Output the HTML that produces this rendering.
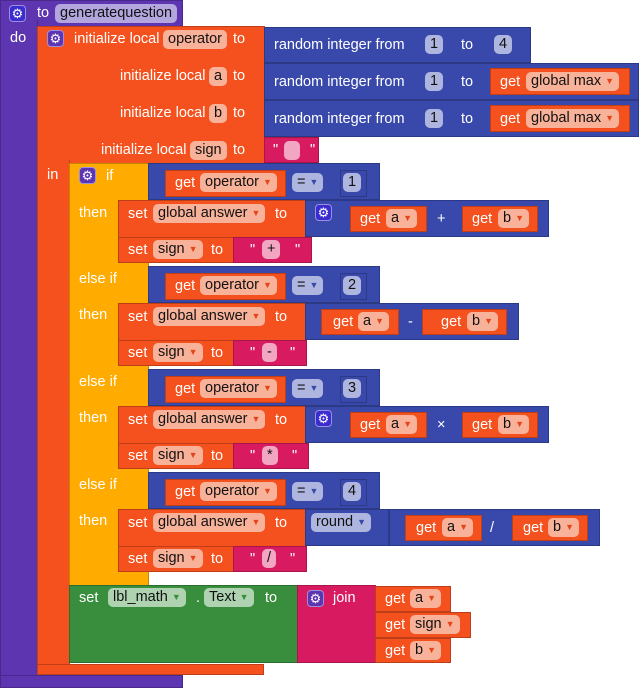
<!DOCTYPE html><html><head><style>
body{margin:0;background:#fff;width:640px;height:689px;position:relative;overflow:hidden;font-family:"Liberation Sans",sans-serif}
.b{position:absolute;box-sizing:border-box;border:1px solid rgba(0,0,0,.22)}
.t{position:absolute;color:#fff;font-size:14.5px;line-height:18px;white-space:nowrap}
.f{position:absolute;border-radius:5px;color:#111;font-size:14.5px;line-height:19px;height:19px;padding:0 5px;white-space:nowrap}
.o{background:#f4511e}.P{background:#5e35b1}.B{background:#3949ab}.Y{background:#ffab00}.G{background:#388e3c}.K{background:#d81b60}
.fo{background:#f9b29a}.fb{background:#aeb6e0}.fg{background:#afd3b1}.fk{background:#f2a6c2}
.ar{font-size:9px;margin-left:4px;vertical-align:1px}
.fo .ar{color:#e4461a}.fb .ar{color:#3949ab}.fg .ar{color:#388e3c}
.g{position:absolute;width:17px;height:17px;border-radius:4px;background:#3b2cd0;border:1px solid #9c8fe0;box-sizing:border-box;color:#fff;font-size:13px;line-height:15px;text-align:center}
.gp{background:#5e35b1}
</style></head><body>
<div class="b P" style="left:0;top:0;width:183px;height:27px"></div>
<div class="b P" style="left:0;top:20px;width:38px;height:660px;border-top:0"></div>
<div class="b P" style="left:0;top:675px;width:183px;height:13px"></div>
<div class="g" style="left:9px;top:5px">⚙</div>
<div class="t" style="left:37px;top:4px">to</div>
<div class="f fb" style="left:55px;top:4px;background:#b3a6df">generatequestion</div>
<div class="t" style="left:10px;top:29px">do</div>
<div class="b o" style="left:37px;top:26px;width:228px;height:138px"></div>
<div class="b o" style="left:37px;top:160px;width:33px;height:510px;border-top:0"></div>
<div class="b o" style="left:37px;top:664px;width:227px;height:11px"></div>
<div class="g gp" style="left:47px;top:30px">⚙</div>
<div class="t" style="left:74px;top:30px">initialize local</div>
<div class="f fo" style="left:163px;top:30px">operator</div>
<div class="t" style="left:233px;top:30px">to</div>
<div class="t" style="left:120px;top:67px">initialize local</div>
<div class="f fo" style="left:209px;top:67px">a</div>
<div class="t" style="left:233px;top:67px">to</div>
<div class="t" style="left:120px;top:104px">initialize local</div>
<div class="f fo" style="left:209px;top:104px">b</div>
<div class="t" style="left:233px;top:104px">to</div>
<div class="t" style="left:101px;top:141px">initialize local</div>
<div class="f fo" style="left:190px;top:141px">sign</div>
<div class="t" style="left:233px;top:141px">to</div>
<div class="t" style="left:47px;top:166px">in</div>
<div class="b B" style="left:264px;top:27px;width:267px;height:36px"></div>
<div class="t" style="left:274px;top:36px">random integer from</div>
<div class="f fb" style="left:425px;top:35px">1</div><div class="t" style="left:461px;top:36px">to</div><div class="f fb" style="left:494px;top:35px">4</div>
<div class="b B" style="left:264px;top:63px;width:375px;height:37px"></div>
<div class="t" style="left:274px;top:73px">random integer from</div>
<div class="f fb" style="left:425px;top:72px">1</div><div class="t" style="left:461px;top:73px">to</div>
<div class="b o" style="left:490px;top:68px;width:140px;height:27px"></div>
<div class="t" style="left:500px;top:73px">get</div><div class="f fo" style="left:526px;top:72px">global max<span class="ar">▼</span></div>
<div class="b B" style="left:264px;top:100px;width:375px;height:37px"></div>
<div class="t" style="left:274px;top:110px">random integer from</div>
<div class="f fb" style="left:425px;top:109px">1</div><div class="t" style="left:461px;top:110px">to</div>
<div class="b o" style="left:490px;top:105px;width:140px;height:27px"></div>
<div class="t" style="left:500px;top:110px">get</div><div class="f fo" style="left:526px;top:109px">global max<span class="ar">▼</span></div>
<div class="b K" style="left:264px;top:137px;width:55px;height:26px"></div>
<div class="t" style="left:273px;top:141px">"</div><div class="f fk" style="left:284px;top:141px;width:6px"></div><div class="t" style="left:310px;top:141px">"</div>
<div class="b Y" style="left:69px;top:163px;width:80px;height:423px"></div>
<div class="g gp" style="left:79px;top:167px">⚙</div>
<div class="t" style="left:106px;top:167px">if</div>
<div class="t" style="left:79px;top:204px">then</div>
<div class="t" style="left:79px;top:270px">else if</div>
<div class="t" style="left:79px;top:306px">then</div>
<div class="t" style="left:79px;top:373px">else if</div>
<div class="t" style="left:79px;top:409px">then</div>
<div class="t" style="left:79px;top:476px">else if</div>
<div class="t" style="left:79px;top:512px">then</div>
<div class="b B" style="left:148px;top:163px;width:232px;height:37px"></div>
<div class="b o" style="left:165px;top:170px;width:121px;height:27px"></div>
<div class="t" style="left:175px;top:174px">get</div><div class="f fo" style="left:200px;top:173px">operator<span class="ar">▼</span></div>
<div class="f fb" style="left:292px;top:173px">=<span class="ar">▼</span></div>
<div class="b B" style="left:340px;top:170px;width:27px;height:27px"></div><div class="f fb" style="left:343px;top:173px">1</div>
<div class="b B" style="left:148px;top:266px;width:232px;height:37px"></div>
<div class="b o" style="left:165px;top:273px;width:121px;height:27px"></div>
<div class="t" style="left:175px;top:277px">get</div><div class="f fo" style="left:200px;top:276px">operator<span class="ar">▼</span></div>
<div class="f fb" style="left:292px;top:276px">=<span class="ar">▼</span></div>
<div class="b B" style="left:340px;top:273px;width:27px;height:27px"></div><div class="f fb" style="left:343px;top:276px">2</div>
<div class="b B" style="left:148px;top:369px;width:232px;height:37px"></div>
<div class="b o" style="left:165px;top:376px;width:121px;height:27px"></div>
<div class="t" style="left:175px;top:380px">get</div><div class="f fo" style="left:200px;top:379px">operator<span class="ar">▼</span></div>
<div class="f fb" style="left:292px;top:379px">=<span class="ar">▼</span></div>
<div class="b B" style="left:340px;top:376px;width:27px;height:27px"></div><div class="f fb" style="left:343px;top:379px">3</div>
<div class="b B" style="left:148px;top:472px;width:232px;height:37px"></div>
<div class="b o" style="left:165px;top:479px;width:121px;height:27px"></div>
<div class="t" style="left:175px;top:483px">get</div><div class="f fo" style="left:200px;top:482px">operator<span class="ar">▼</span></div>
<div class="f fb" style="left:292px;top:482px">=<span class="ar">▼</span></div>
<div class="b B" style="left:340px;top:479px;width:27px;height:27px"></div><div class="f fb" style="left:343px;top:482px">4</div>
<div class="b o" style="left:118px;top:200px;width:188px;height:38px"></div>
<div class="t" style="left:128px;top:205px">set</div><div class="f fo" style="left:153px;top:204px">global answer<span class="ar">▼</span></div><div class="t" style="left:275px;top:205px">to</div>
<div class="b B" style="left:305px;top:200px;width:244px;height:37px"></div>
<div class="g" style="left:315px;top:204px">⚙</div>
<div class="b o" style="left:350px;top:206px;width:77px;height:26px"></div>
<div class="t" style="left:360px;top:210px">get</div><div class="f fo" style="left:386px;top:209px">a<span class="ar">▼</span></div>
<div class="t" style="left:437px;top:210px">+</div>
<div class="b o" style="left:462px;top:206px;width:76px;height:26px"></div>
<div class="t" style="left:472px;top:210px">get</div><div class="f fo" style="left:498px;top:209px">b<span class="ar">▼</span></div>
<div class="b o" style="left:118px;top:237px;width:116px;height:26px"></div>
<div class="t" style="left:128px;top:241px">set</div><div class="f fo" style="left:153px;top:240px">sign<span class="ar">▼</span></div><div class="t" style="left:211px;top:241px">to</div>
<div class="b K" style="left:233px;top:237px;width:79px;height:26px"></div>
<div class="t" style="left:250px;top:241px">"</div><div class="f fk" style="left:262px;top:240px">+</div><div class="t" style="left:295px;top:241px">"</div>
<div class="b o" style="left:118px;top:303px;width:188px;height:38px"></div>
<div class="t" style="left:128px;top:308px">set</div><div class="f fo" style="left:153px;top:307px">global answer<span class="ar">▼</span></div><div class="t" style="left:275px;top:308px">to</div>
<div class="b B" style="left:305px;top:303px;width:214px;height:37px"></div>
<div class="b o" style="left:321px;top:309px;width:78px;height:26px"></div>
<div class="t" style="left:333px;top:313px">get</div><div class="f fo" style="left:358px;top:312px">a<span class="ar">▼</span></div>
<div class="t" style="left:408px;top:313px">-</div>
<div class="b o" style="left:422px;top:309px;width:85px;height:26px"></div>
<div class="t" style="left:441px;top:313px">get</div><div class="f fo" style="left:467px;top:312px">b<span class="ar">▼</span></div>
<div class="b o" style="left:118px;top:340px;width:116px;height:26px"></div>
<div class="t" style="left:128px;top:344px">set</div><div class="f fo" style="left:153px;top:343px">sign<span class="ar">▼</span></div><div class="t" style="left:211px;top:344px">to</div>
<div class="b K" style="left:233px;top:340px;width:74px;height:26px"></div>
<div class="t" style="left:250px;top:344px">"</div><div class="f fk" style="left:262px;top:343px">-</div><div class="t" style="left:290px;top:344px">"</div>
<div class="b o" style="left:118px;top:406px;width:188px;height:38px"></div>
<div class="t" style="left:128px;top:411px">set</div><div class="f fo" style="left:153px;top:410px">global answer<span class="ar">▼</span></div><div class="t" style="left:275px;top:411px">to</div>
<div class="b B" style="left:305px;top:406px;width:244px;height:37px"></div>
<div class="g" style="left:315px;top:410px">⚙</div>
<div class="b o" style="left:350px;top:412px;width:77px;height:26px"></div>
<div class="t" style="left:360px;top:416px">get</div><div class="f fo" style="left:386px;top:415px">a<span class="ar">▼</span></div>
<div class="t" style="left:437px;top:416px">×</div>
<div class="b o" style="left:462px;top:412px;width:76px;height:26px"></div>
<div class="t" style="left:472px;top:416px">get</div><div class="f fo" style="left:498px;top:415px">b<span class="ar">▼</span></div>
<div class="b o" style="left:118px;top:443px;width:116px;height:26px"></div>
<div class="t" style="left:128px;top:447px">set</div><div class="f fo" style="left:153px;top:446px">sign<span class="ar">▼</span></div><div class="t" style="left:211px;top:447px">to</div>
<div class="b K" style="left:233px;top:443px;width:76px;height:26px"></div>
<div class="t" style="left:250px;top:447px">"</div><div class="f fk" style="left:262px;top:446px">*</div><div class="t" style="left:292px;top:447px">"</div>
<div class="b o" style="left:118px;top:509px;width:188px;height:38px"></div>
<div class="t" style="left:128px;top:514px">set</div><div class="f fo" style="left:153px;top:513px">global answer<span class="ar">▼</span></div><div class="t" style="left:275px;top:514px">to</div>
<div class="b B" style="left:305px;top:509px;width:84px;height:37px"></div>
<div class="f fb" style="left:311px;top:513px">round<span class="ar">▼</span></div>
<div class="b B" style="left:389px;top:509px;width:211px;height:37px"></div>
<div class="b o" style="left:405px;top:515px;width:77px;height:26px"></div>
<div class="t" style="left:416px;top:519px">get</div><div class="f fo" style="left:442px;top:518px">a<span class="ar">▼</span></div>
<div class="t" style="left:490px;top:519px">/</div>
<div class="b o" style="left:512px;top:515px;width:76px;height:26px"></div>
<div class="t" style="left:523px;top:519px">get</div><div class="f fo" style="left:548px;top:518px">b<span class="ar">▼</span></div>
<div class="b o" style="left:118px;top:546px;width:116px;height:26px"></div>
<div class="t" style="left:128px;top:550px">set</div><div class="f fo" style="left:153px;top:549px">sign<span class="ar">▼</span></div><div class="t" style="left:211px;top:550px">to</div>
<div class="b K" style="left:233px;top:546px;width:74px;height:26px"></div>
<div class="t" style="left:250px;top:550px">"</div><div class="f fk" style="left:262px;top:549px">/</div><div class="t" style="left:290px;top:550px">"</div>
<div class="b G" style="left:69px;top:585px;width:229px;height:78px"></div>
<div class="t" style="left:79px;top:589px">set</div>
<div class="f fg" style="left:108px;top:588px">lbl_math<span class="ar">▼</span></div>
<div class="t" style="left:196px;top:589px">.</div>
<div class="f fg" style="left:204px;top:588px">Text<span class="ar">▼</span></div>
<div class="t" style="left:265px;top:589px">to</div>
<div class="b K" style="left:297px;top:585px;width:79px;height:78px"></div>
<div class="g gp" style="left:307px;top:590px">⚙</div>
<div class="t" style="left:333px;top:589px">join</div>
<div class="b o" style="left:375px;top:586px;width:76px;height:26px"></div>
<div class="t" style="left:385px;top:590px">get</div><div class="f fo" style="left:410px;top:589px">a<span class="ar">▼</span></div>
<div class="b o" style="left:375px;top:612px;width:96px;height:26px"></div>
<div class="t" style="left:385px;top:616px">get</div><div class="f fo" style="left:410px;top:615px">sign<span class="ar">▼</span></div>
<div class="b o" style="left:375px;top:638px;width:76px;height:25px"></div>
<div class="t" style="left:385px;top:642px">get</div><div class="f fo" style="left:410px;top:641px">b<span class="ar">▼</span></div>
</body></html>
